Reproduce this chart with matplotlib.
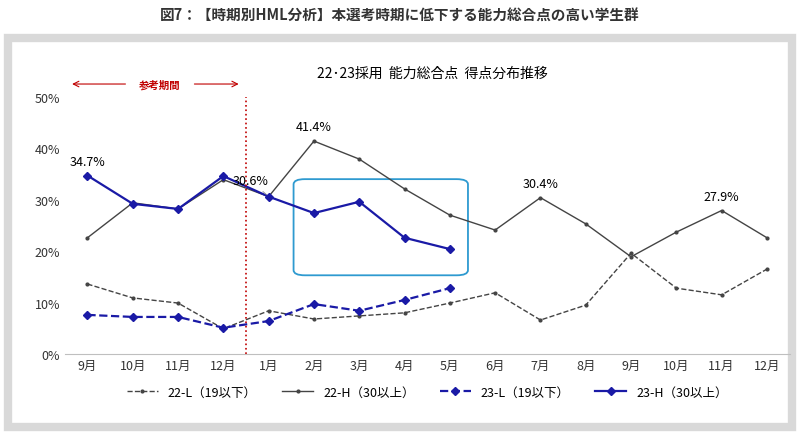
import matplotlib
matplotlib.use("Agg")
import matplotlib.pyplot as plt
from matplotlib.patches import FancyBboxPatch, Rectangle

plt.rcParams["font.family"] = "Noto Sans CJK JP"

months = ["9月", "10月", "11月", "12月", "1月", "2月", "3月", "4月",
          "5月", "6月", "7月", "8月", "9月", "10月", "11月", "12月"]
l22 = [13.6, 10.9, 9.9, 4.9, 8.4, 6.8, 7.4, 8.0, 9.9, 11.9, 6.6, 9.5, 19.6, 12.8, 11.5, 16.5]
h22 = [22.6, 29.4, 28.2, 33.9, 30.6, 41.4, 37.9, 32.1, 27.0, 24.1, 30.4, 25.3, 18.9, 23.7, 27.9, 22.6]
l23 = [7.6, 7.2, 7.2, 5.1, 6.4, 9.7, 8.4, 10.5, 12.8]
h23 = [34.7, 29.2, 28.2, 34.6, 30.6, 27.4, 29.6, 22.6, 20.4]

x = list(range(len(months)))
fig = plt.figure(figsize=(8, 4.35), dpi=100)
fig.patches.append(Rectangle((0.01, 0.015), 0.98, 0.895, transform=fig.transFigure,
                             facecolor="white", edgecolor="#d9d9d9", linewidth=6, zorder=-5))
fig.text(0.5, 0.965, "図7：【時期別HML分析】本選考時期に低下する能力総合点の高い学生群",
         ha="center", va="center", fontsize=10.5, fontweight="bold", color="#333333")

ax = fig.add_axes([0.081, 0.184, 0.906, 0.591])
ax.patch.set_alpha(0)
ax.plot(x, l22, "--", color="#444444", lw=1, marker="o", ms=2, label="22-L（19以下）")
ax.plot(x, h22, "-", color="#444444", lw=1, marker="o", ms=2, label="22-H（30以上）")
ax.plot(x[:len(l23)], l23, "--", color="#1a1aa6", lw=1.6, marker="D", ms=4, label="23-L（19以下）")
ax.plot(x[:len(h23)], h23, "-", color="#1a1aa6", lw=1.6, marker="D", ms=4, label="23-H（30以上）")

ax.set_xlim(-0.5, len(months) - 0.5)
ax.set_ylim(0, 50)
ax.set_xticks(x)
ax.set_xticklabels(months, fontsize=9)
ax.set_yticks(range(0, 51, 10))
ax.set_yticklabels([f"{v}%" for v in range(0, 51, 10)], fontsize=9)
for s in ["top", "right", "left"]:
    ax.spines[s].set_visible(False)
ax.spines["bottom"].set_color("#bfbfbf")
ax.tick_params(length=0, colors="#333333")

ax.text(0, h23[0] + 1.5, "34.7%", ha="center", va="bottom", fontsize=9)
ax.text(5, h22[5] + 1.5, "41.4%", ha="center", va="bottom", fontsize=9)
ax.text(10, h22[10] + 1.5, "30.4%", ha="center", va="bottom", fontsize=9)
ax.text(14, h22[14] + 1.5, "27.9%", ha="center", va="bottom", fontsize=9)
ax.annotate("30.6%", (4, h23[4]), xytext=(3.6, 32.5), ha="center", va="bottom", fontsize=9,
            arrowprops=dict(arrowstyle="-", color="#888888", lw=0.6))

ax.axvline(3.5, color="#c00000", ls=":", lw=1.2)
ax.annotate("", (-0.4, 52.5), xytext=(0.9, 52.5), annotation_clip=False,
            arrowprops=dict(arrowstyle="->", color="#c00000", lw=0.8))
ax.annotate("", (3.4, 52.5), xytext=(2.3, 52.5), annotation_clip=False,
            arrowprops=dict(arrowstyle="->", color="#c00000", lw=0.8))
ax.text(1.6, 52.5, "参考期間", ha="center", va="center", fontsize=7.5, color="#c00000",
        fontweight="bold")

ax.add_patch(FancyBboxPatch((4.55, 15.3), 3.85, 18.7, boxstyle="round,pad=0,rounding_size=0.25",
                            fill=False, edgecolor="#2e9ad0", lw=1.3, mutation_aspect=4))

fig.text(0.54, 0.83, "22･23採用  能力総合点  得点分布推移", ha="center", va="center", fontsize=10)
ax.legend(loc="upper center", bbox_to_anchor=(0.5, -0.08), ncol=4, frameon=False,
          fontsize=9, handlelength=2.5)

fig.savefig("out.png", dpi=100)
